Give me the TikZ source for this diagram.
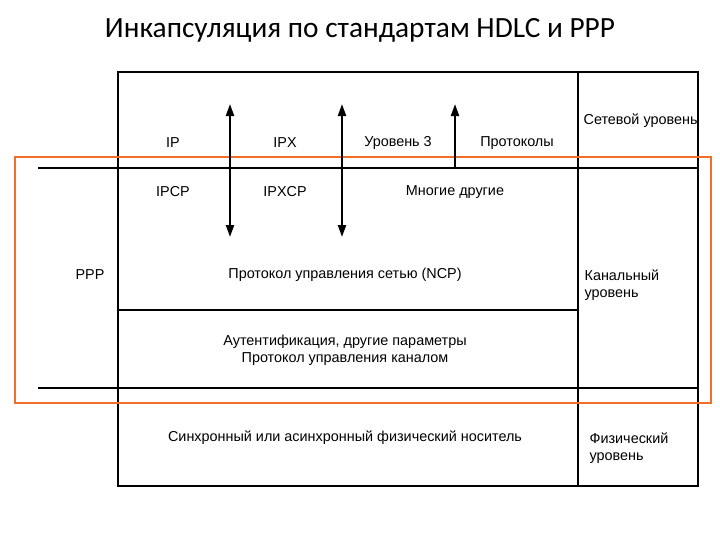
\documentclass[tikz,border=0pt]{standalone}
\usepackage{fontspec}
\setmainfont{Liberation Sans}
\newfontfamily\titlefont{Carlito}
\usetikzlibrary{arrows.meta}
\begin{document}
\begin{tikzpicture}[x=0.75pt,y=-0.75pt,
  lbl/.style={font=\fontsize{10.8}{12.5}\selectfont,inner sep=1pt},
  lblr/.style={lbl,anchor=west,align=left},
  ln/.style={line width=1pt,black},
  arr/.style={line width=1.6pt,-{Triangle[length=9pt,width=6pt]}},
  darr/.style={line width=1.6pt,{Triangle[length=9pt,width=6pt]}-{Triangle[length=9pt,width=6pt]}}]
\useasboundingbox[fill=white] (0,0) rectangle (720,540);
\node[font=\titlefont\fontsize{22}{26}\selectfont] (title) at (360,30) {Инкапсуляция по стандартам HDLC и PPP};
\draw[ln] (118,72) rectangle (698,486);
\draw[ln] (578,72) -- (578,486);
\draw[ln] (38,168) -- (698,168);
\draw[ln] (118,310) -- (578,310);
\draw[ln] (38,388) -- (698,388);
\draw[draw={rgb,255:red,240;green,110;blue,40},line width=2pt] (15,157) rectangle (711,403);
\coordinate (a1t) at (230,104); \coordinate (a1b) at (230,237);
\coordinate (a2t) at (342,104); \coordinate (a2b) at (342,237);
\coordinate (a3t) at (455,104); \coordinate (a3b) at (455,168);
\draw[darr] (a1b) -- (a1t);
\draw[darr] (a2b) -- (a2t);
\draw[arr] (a3b) -- (a3t);
\node[lbl] (ip) at (173,143) {IP};
\node[lbl] (ipx) at (285,143) {IPX};
\node[lbl] (l3) at (398,143) {Уровень 3};
\node[lbl] (pr) at (517,143) {Протоколы};
\node[lblr] (net) at (582,121) {Сетевой уровень};
\node[lbl] (ipcp) at (173,192) {IPCP};
\node[lbl] (ipxcp) at (285,192) {IPXCP};
\node[lbl] (many) at (455,192) {Многие другие};
\node[lbl] (ppp) at (90,275) {PPP};
\node[lbl] (ncp) at (345,275) {Протокол управления сетью (NCP)};
\node[lblr] (dl) at (583,285) {Канальный\\уровень};
\node[lbl,align=center] (auth) at (345,350) {Аутентификация, другие параметры\\Протокол управления каналом};
\node[lbl] (phys) at (345,438) {Синхронный или асинхронный физический носитель};
\node[lblr] (phl) at (588,448) {Физический\\уровень};
\end{tikzpicture}
\end{document}
